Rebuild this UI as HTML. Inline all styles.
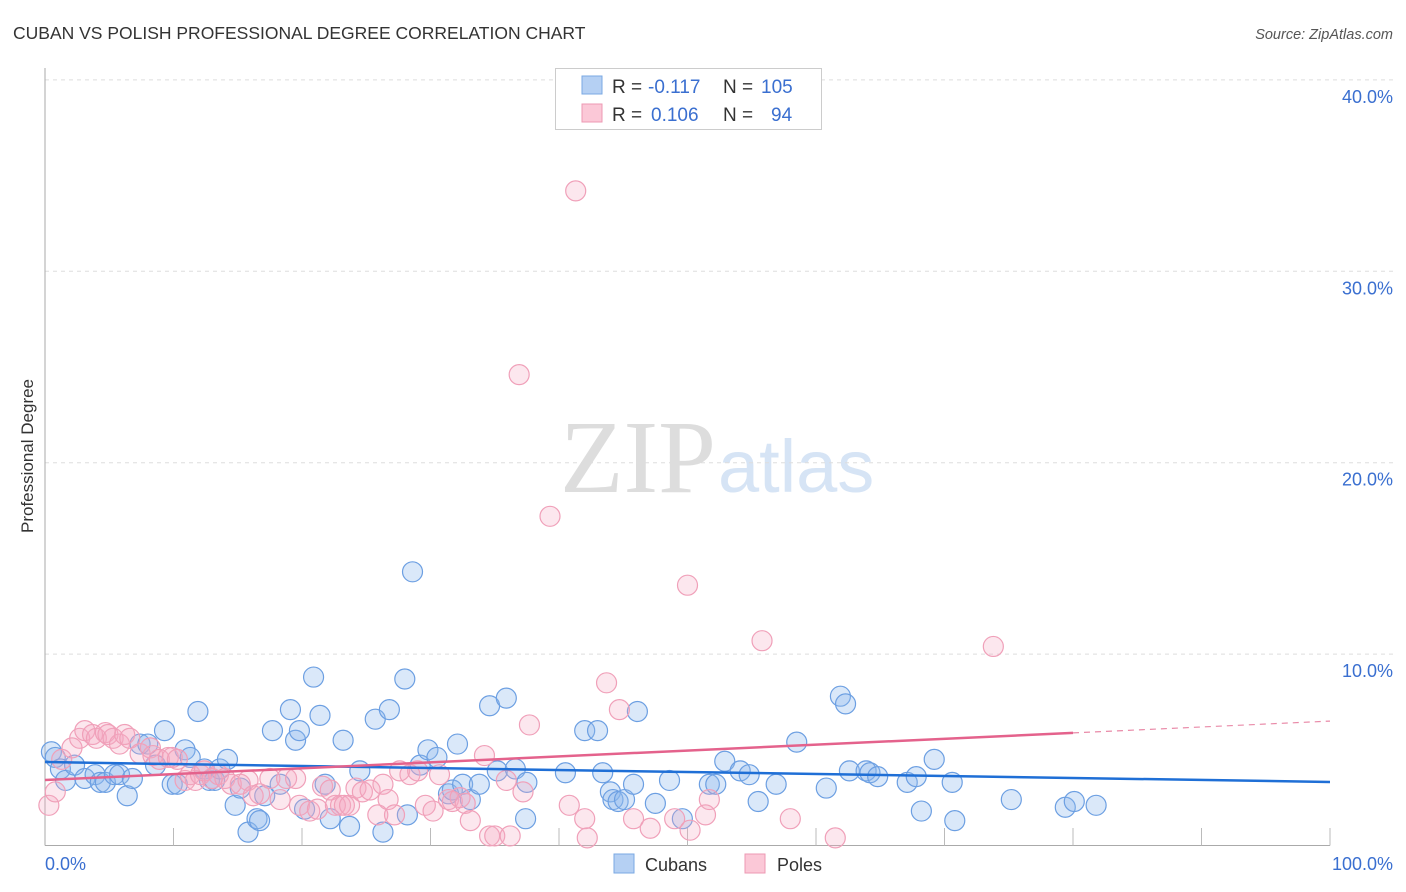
<!DOCTYPE html>
<html><head><meta charset="utf-8"><style>
body{margin:0;background:#fff;font-family:"Liberation Sans",sans-serif;}
#wrap{position:relative;width:1406px;height:892px;overflow:hidden;}
</style></head><body>
<div id="wrap">
<svg id="chart" width="1406" height="892">
<text x="13" y="39" font-size="17.5" fill="#333">CUBAN VS POLISH PROFESSIONAL DEGREE CORRELATION CHART</text>
<text x="1393" y="39" font-size="14.5" fill="#555" font-style="italic" text-anchor="end">Source: ZipAtlas.com</text>
<text x="0" y="0" transform="translate(33,456) rotate(-90)" font-size="17" fill="#333" text-anchor="middle">Professional Degree</text>
<text x="716" y="492" font-size="104" fill="#ddd" font-family="Liberation Serif,serif" text-anchor="end">ZIP</text>
<text x="718" y="492" font-size="74" fill="#d6e4f5" text-anchor="start">atlas</text>
<g id="grid"></g>
<g id="axes"></g>
<g id="marks"></g>
<g>
<rect x="555.5" y="68.5" width="266" height="61" fill="#fff" stroke="#ccc"/>
<rect x="582" y="76" width="20" height="18" fill="#b5d0f3" stroke="#7aa8e3"/>
<rect x="582" y="104" width="20" height="18" fill="#fbc8d7" stroke="#ec99b3"/>
<text x="612" y="93" font-size="19" fill="#333">R = </text><text x="648" y="93" font-size="19" fill="#3a6fd0">-0.117</text>
<text x="723" y="93" font-size="19" fill="#333">N = </text><text x="761" y="93" font-size="19" fill="#3a6fd0">105</text>
<text x="612" y="121" font-size="19" fill="#333">R = </text><text x="651" y="121" font-size="19" fill="#3a6fd0">0.106</text>
<text x="723" y="121" font-size="19" fill="#333">N = </text><text x="771" y="121" font-size="19" fill="#3a6fd0">94</text>
</g>
<g>
<rect x="614" y="854" width="20" height="19" fill="#b5d0f3" stroke="#7aa8e3"/>
<text x="645" y="871" font-size="18" fill="#333">Cubans</text>
<rect x="745" y="854" width="20" height="19" fill="#fbc8d7" stroke="#ec99b3"/>
<text x="777" y="871" font-size="18" fill="#333">Poles</text>
</g>
</svg>
</div>
<script>
const yTicks=[10,20,30,40];
const yTickLabels=["10.0%","20.0%","30.0%","40.0%"];
const xTickLabels=["0.0%","100.0%"];
const cubanX=[0.5,0.8,1.2,1.6,2.3,3.1,3.9,4.3,4.7,5.4,5.8,6.4,6.8,7.4,8.0,8.6,9.3,9.9,10.3,10.9,11.3,11.9,12.4,12.8,13.2,13.6,14.2,14.8,15.2,15.8,16.5,16.7,17.1,17.7,18.3,19.1,19.5,19.8,20.2,20.9,21.4,21.8,22.2,23.2,23.7,24.5,25.7,26.3,26.8,28.0,28.2,28.6,29.2,29.8,30.5,31.4,31.7,32.1,32.5,33.1,33.8,34.6,35.2,35.9,36.6,37.4,37.5,40.5,42.0,43.0,43.4,44.0,44.2,44.6,45.1,45.8,46.1,47.5,48.6,49.6,51.7,52.2,52.9,54.1,54.8,55.5,56.9,58.5,60.8,61.9,62.3,62.6,63.9,64.2,64.8,67.1,67.8,68.2,69.2,70.6,70.8,75.2,79.4,80.1,81.8];
const cubanY=[4.9,4.6,4.0,3.4,4.2,3.5,3.7,3.3,3.3,3.7,3.7,2.6,3.5,5.3,5.3,4.2,6.0,3.2,3.2,5.0,4.6,7.0,4.0,3.4,3.4,4.0,4.5,2.1,3.0,0.7,1.4,1.3,2.6,6.0,3.2,7.1,5.5,6.0,1.9,8.8,6.8,3.2,1.4,5.5,1.0,3.9,6.6,0.7,7.1,8.7,1.6,14.3,4.2,5.0,4.6,2.7,2.9,5.3,3.2,2.4,3.2,7.3,3.9,7.7,4.0,1.4,3.3,3.8,6.0,6.0,3.8,2.8,2.4,2.3,2.4,3.2,7.0,2.2,3.4,1.4,3.2,3.2,4.4,3.9,3.7,2.3,3.2,5.4,3.0,7.8,7.4,3.9,3.9,3.8,3.6,3.3,3.6,1.8,4.5,3.3,1.3,2.4,2.0,2.3,2.1];
const poleX=[0.3,0.8,1.3,2.1,2.7,3.1,3.7,4.0,4.7,4.9,5.3,5.8,6.2,6.6,7.4,8.2,8.4,8.9,9.6,9.9,10.3,10.9,11.3,11.7,12.1,12.4,13.0,13.5,14.0,14.5,15.2,15.8,16.2,16.7,17.5,18.3,18.8,19.5,19.8,20.6,21.2,21.6,22.2,22.6,23.0,23.3,23.7,24.2,24.7,25.3,25.9,26.3,26.7,27.2,27.6,28.4,29.0,29.6,30.2,30.7,31.4,31.7,32.3,32.7,33.1,34.2,34.6,35.0,35.9,36.2,36.9,37.2,37.7,39.3,40.8,41.3,42.0,42.2,43.7,44.7,45.8,47.1,49.0,50.0,50.2,51.4,51.7,55.8,58.0,61.5,73.8];
const poleY=[2.1,2.8,4.5,5.1,5.6,6.0,5.8,5.6,5.9,5.8,5.6,5.3,5.8,5.6,4.8,5.1,4.7,4.5,4.6,4.6,4.5,3.4,3.7,3.4,3.7,3.9,3.5,3.7,3.5,3.2,3.2,3.4,2.6,2.7,3.5,2.4,3.5,3.5,2.1,1.8,1.9,3.1,2.9,2.1,2.1,2.1,2.1,3.0,2.8,2.9,1.6,3.2,2.4,1.6,3.9,3.7,3.9,2.1,1.8,3.7,2.4,2.3,2.5,2.2,1.3,4.7,0.5,0.5,3.4,0.5,24.6,2.8,6.3,17.2,2.1,34.2,1.4,0.4,8.5,7.1,1.4,0.9,1.4,13.6,0.8,1.6,2.4,10.7,1.4,0.4,10.4];
const cubanTrend=[4.36,3.32];
const poleTrend=[3.42,6.5];
const poleSolidEnd=80;

const NS="http://www.w3.org/2000/svg";
const X0=45,X1=1330,Y0=845.5,YPER=19.14;
const sx=v=>X0+(X1-X0)*v/100;
const sy=v=>Y0-v*YPER;
function mk(tag,attrs,parent){const e=document.createElementNS(NS,tag);for(const k in attrs)e.setAttribute(k,attrs[k]);parent.appendChild(e);return e;}
const grid=document.getElementById('grid'),axes=document.getElementById('axes'),marks=document.getElementById('marks');
yTicks.forEach((t,i)=>{
 const l=mk('line',{x1:X0,x2:1395,y1:sy(t),y2:sy(t),stroke:'#ddd','stroke-dasharray':'4,4'},grid);
 
 
 const tx=mk('text',{x:1393,y:sy(t)+23,'font-size':18,fill:'#3a6fd0','text-anchor':'end'},axes);
 tx.textContent=yTickLabels[i];
 
 
});
const ax=mk('line',{x1:X0,x2:X0,y1:68,y2:Y0,stroke:'#aaa'},axes);


const bx=mk('line',{x1:X0,x2:X1,y1:Y0,y2:Y0,stroke:'#aaa'},axes);


for(let t=10;t<=100;t+=10){
 const tk=mk('line',{x1:sx(t),x2:sx(t),y1:828,y2:Y0,stroke:'#bbb'},axes);
 
 
}
[[0,'start',45],[100,'end',1393]].forEach((d,i)=>{
 const tx=mk('text',{x:d[2],y:870,'font-size':18,fill:'#3a6fd0','text-anchor':d[1]},axes);
 tx.textContent=xTickLabels[i];
 
 
});
cubanX.forEach((x,i)=>{
 const c=mk('circle',{cx:sx(x),cy:sy(cubanY[i]),r:10,fill:'rgba(140,182,236,0.32)',stroke:'#6c9fe2','stroke-width':1.2},marks);
 
 
});
poleX.forEach((x,i)=>{
 const c=mk('circle',{cx:sx(x),cy:sy(poleY[i]),r:10,fill:'rgba(246,170,195,0.28)',stroke:'#f0a0b9','stroke-width':1.2},marks);
 
 
});
const bt=mk('line',{x1:sx(0),y1:sy(cubanTrend[0]),x2:sx(100),y2:sy(cubanTrend[1]),stroke:'#1f6fd6','stroke-width':2.5},marks);


const pe=poleTrend[0]+(poleTrend[1]-poleTrend[0])*poleSolidEnd/100;
const pt=mk('line',{x1:sx(0),y1:sy(poleTrend[0]),x2:sx(poleSolidEnd),y2:sy(pe),stroke:'#e4628c','stroke-width':2.5},marks);


const pd=mk('line',{x1:sx(poleSolidEnd),y1:sy(pe),x2:sx(100),y2:sy(poleTrend[1]),stroke:'#e98aa8','stroke-width':1.2,'stroke-dasharray':'6,5'},marks);


</script>
</body></html>
